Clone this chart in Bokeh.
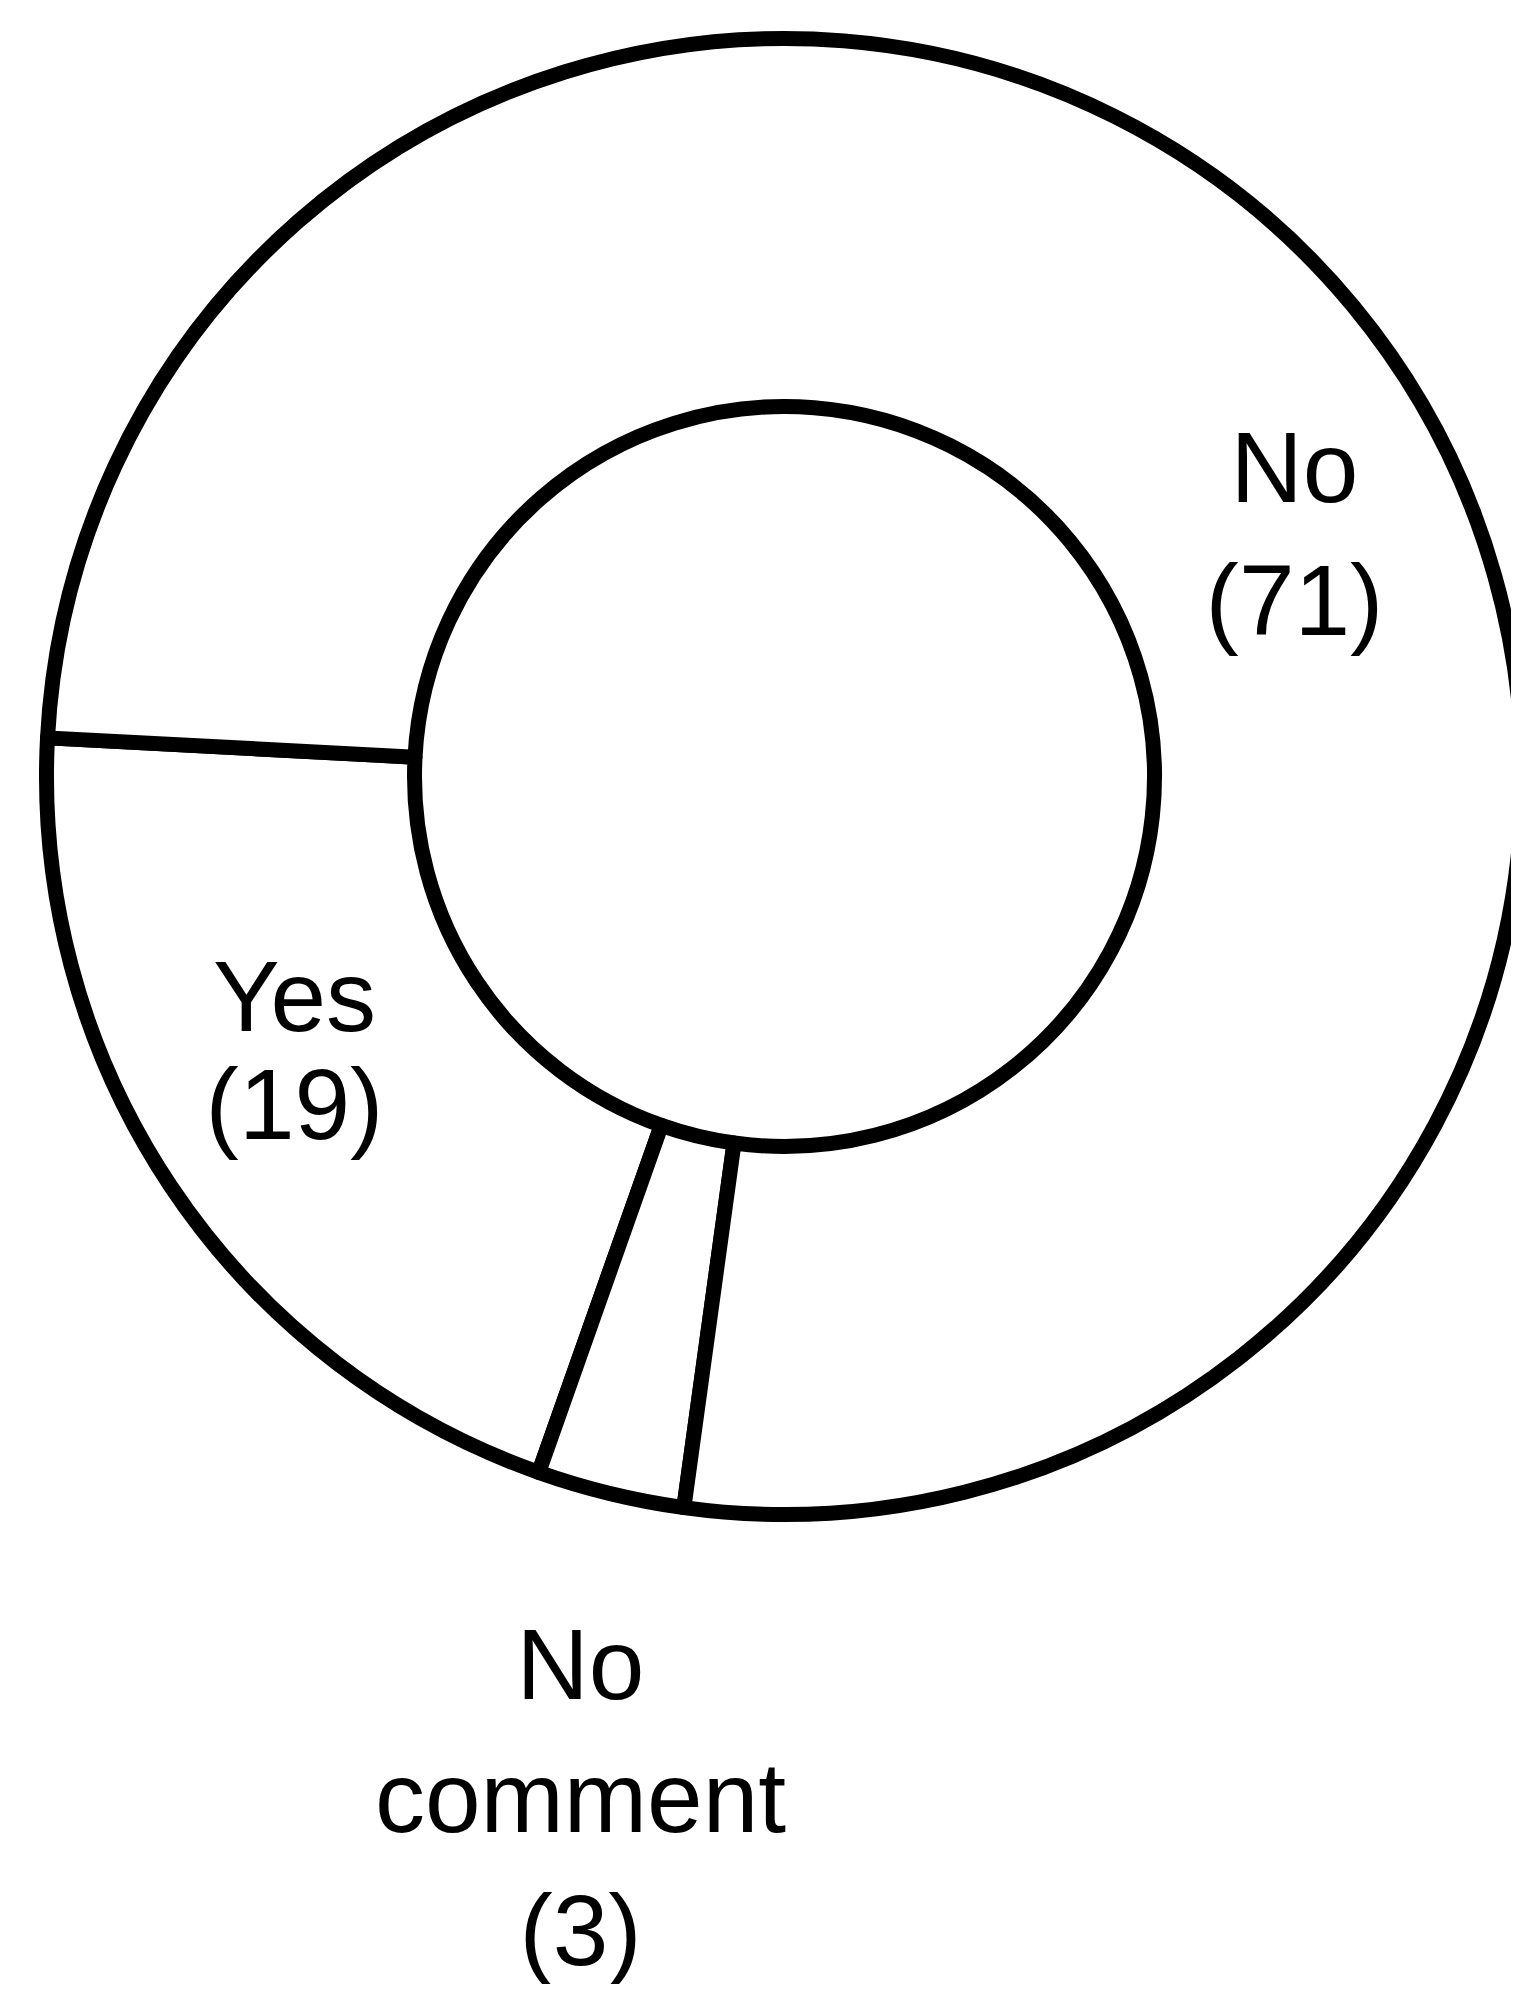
import numpy as np
from bokeh.plotting import figure
from bokeh.models import Range1d, ColumnDataSource
from bokeh.core.properties import value
from bokeh.embed import file_html
from bokeh.resources import INLINE

# ---- data ----
categories = ["Yes", "No comment", "No"]
counts = [19, 3, 71]

# ---- layout / style ----
W, H = 1511, 1984
CX, CY = 792, 784          # ring centre (page pixels)
R_OUT, R_IN = 738, 370
START_DEG = 177.0          # where the first slice starts (anticlockwise)
LINE_W = 15
FONT = "Liberation Sans, Arial, sans-serif"
FONT_SIZE = "100px"
# label anchor: centre x, first baseline y, line spacing (page pixels)
label_pos = {
    "No": (1302, 474, 133),
    "Yes": (302, 1003, 108),
    "No comment": (588, 1671, 133),
}

counts_arr = np.array(counts, dtype=float)
frac = counts_arr / counts_arr.sum()
ends = START_DEG + 360.0 * np.cumsum(frac)
starts = np.concatenate([[START_DEG], ends[:-1]])

wedges = ColumnDataSource(dict(
    x=[CX] * len(categories),
    y=[-CY] * len(categories),
    start=np.radians(starts),
    end=np.radians(ends),
    cat=categories,
))

p = figure(width=W, height=H, output_backend="svg", toolbar_location=None,
           x_range=Range1d(8, 8 + W), y_range=Range1d(-(8 + H), -8),
           min_border=0)
p.axis.visible = False
p.grid.visible = False
p.outline_line_color = None
p.background_fill_color = "white"
p.border_fill_color = "white"

p.annular_wedge(x="x", y="y", inner_radius=R_IN, outer_radius=R_OUT,
                start_angle="start", end_angle="end", source=wedges,
                fill_color="white", line_color="black", line_width=LINE_W,
                line_join="round")

tx, ty, tt = [], [], []
for cat, cnt in zip(categories, counts):
    lines = cat.split(" ") + [f"({cnt})"]
    x0, y0, sp = label_pos[cat]
    for i, ln in enumerate(lines):
        tx.append(x0)
        ty.append(-(y0 + i * sp))
        tt.append(ln)

p.text(x=tx, y=ty, text=tt, text_align="center", text_baseline="alphabetic",
       text_font=value(FONT), text_font_size=FONT_SIZE, text_color="black")

open("out.html", "w").write(file_html(p, INLINE))
